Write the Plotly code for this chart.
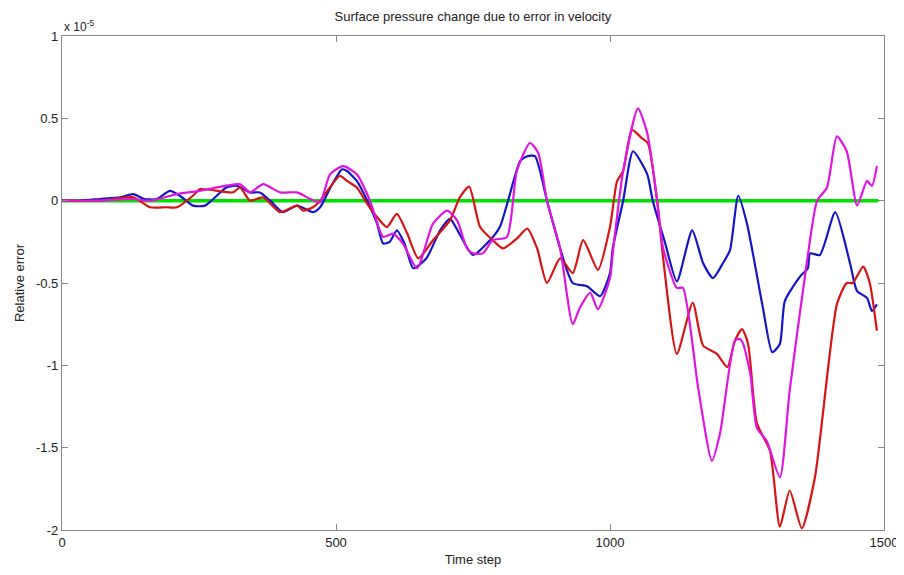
import plotly.graph_objects as go

# values in units of 1e-5
blue_x = [0, 33, 69, 106, 130, 150, 173, 197, 215, 239, 261, 300, 319, 343, 361, 380, 403, 429, 458, 471,
          490, 511, 520, 538, 557, 575, 586, 598, 611, 625, 641, 665, 690, 708, 725, 750, 781, 799, 814,
          836, 849, 863, 885, 909, 932, 958, 982, 1000, 1005, 1024, 1042, 1068, 1078, 1100, 1122, 1150,
          1170, 1188, 1206, 1219, 1234, 1250, 1279, 1296, 1310, 1319, 1347, 1361, 1365, 1383, 1411,
          1438, 1451, 1469, 1478, 1487]
blue_y = [0, 0.0, 0.01, 0.02, 0.04, 0.01, 0.01, 0.06, 0.03, -0.03, -0.03, 0.08, 0.09, 0.05, 0.05, 0.0,
          -0.07, -0.03, -0.07, -0.04, 0.08, 0.19, 0.18, 0.12, 0.0, -0.14, -0.26, -0.25, -0.18, -0.26,
          -0.41, -0.35, -0.18, -0.11, -0.20, -0.33, -0.24, -0.16, 0.0, 0.24, 0.27, 0.27, 0.0, -0.29,
          -0.50, -0.52, -0.58, -0.44, -0.29, 0.0, 0.30, 0.16, 0.0, -0.25, -0.49, -0.18, -0.38, -0.47,
          -0.38, -0.30, 0.03, -0.14, -0.65, -0.92, -0.87, -0.61, -0.46, -0.41, -0.32, -0.33, -0.07,
          -0.38, -0.55, -0.59, -0.67, -0.63]

red_x = [0, 69, 130, 161, 190, 210, 239, 252, 312, 325, 343, 367, 398, 429, 440, 458, 471, 507, 520,
         538, 557, 575, 593, 611, 630, 650, 677, 708, 726, 743, 763, 786, 805, 830, 849, 867, 885, 909,
         932, 951, 978, 1000, 1013, 1024, 1040, 1058, 1069, 1086, 1097, 1122, 1151, 1170, 1195, 1214,
         1228, 1241, 1252, 1268, 1292, 1310, 1328, 1350, 1374, 1414, 1432, 1443, 1462, 1474, 1487]
red_y = [0, 0.0, 0.02, -0.04, -0.04, -0.04, 0.03, 0.07, 0.05, 0.08, 0.0, 0.02, -0.07, -0.03, -0.06,
         -0.04, 0.0, 0.15, 0.12, 0.08, -0.02, -0.10, -0.16, -0.08, -0.20, -0.35, -0.24, -0.12, 0.02,
         0.085, -0.16, -0.24, -0.29, -0.23, -0.17, -0.29, -0.50, -0.35, -0.44, -0.24, -0.42, -0.16,
         0.12, 0.18, 0.43, 0.38, 0.35, 0.0, -0.35, -0.93, -0.62, -0.88, -0.93, -1.01, -0.85, -0.78,
         -0.87, -1.35, -1.52, -1.98, -1.76, -1.99, -1.68, -0.63, -0.50, -0.50, -0.40, -0.50, -0.79]

mag_x = [0, 69, 130, 161, 210, 252, 325, 343, 367, 398, 429, 453, 471, 489, 513, 538, 562, 586, 604,
         622, 648, 677, 703, 721, 739, 750, 768, 786, 812, 830, 854, 869, 885, 909, 932, 945, 964, 978,
         1000, 1005, 1024, 1051, 1068, 1086, 1097, 1122, 1133, 1161, 1186, 1201, 1228, 1237, 1243,
         1256, 1268, 1286, 1310, 1328, 1359, 1378, 1396, 1414, 1432, 1451, 1469, 1478, 1487]
mag_y = [0, 0.0, 0.01, 0.0, 0.04, 0.06, 0.10, 0.05, 0.10, 0.05, 0.05, 0.01, -0.01, 0.16, 0.21, 0.16,
         0.0, -0.22, -0.20, -0.26, -0.41, -0.14, -0.06, -0.12, -0.29, -0.32, -0.32, -0.24, -0.22, 0.18,
         0.35, 0.29, 0.0, -0.29, -0.75, -0.65, -0.56, -0.66, -0.47, -0.32, 0.18, 0.56, 0.41, 0.0, -0.29,
         -0.53, -0.53, -1.14, -1.58, -1.41, -0.85, -0.84, -0.87, -1.05, -1.38, -1.46, -1.68, -1.15,
         -0.38, 0.0, 0.08, 0.39, 0.30, -0.03, 0.12, 0.09, 0.21]

green_x = [0, 1490]
green_y = [0, 0]

x_ticks = [0, 500, 1000, 1500]
y_ticks = [1, 0.5, 0, -0.5, -1, -1.5, -2]
y_ticklabels = ["1", "0.5", "0", "-0.5", "-1", "-1.5", "-2"]

fig = go.Figure()
fig.add_trace(go.Scatter(x=green_x, y=green_y, mode="lines",
                         line=dict(color="rgb(0,225,0)", width=3.5), showlegend=False))
for xs, ys, col in [(blue_x, blue_y, "rgb(20,20,200)"),
                    (red_x, red_y, "rgb(215,20,20)"),
                    (mag_x, mag_y, "rgb(225,20,225)")]:
    fig.add_trace(go.Scatter(x=xs, y=ys, mode="lines",
                             line=dict(color=col, width=2.2, shape="spline", smoothing=0.6),
                             showlegend=False))

axis_font = dict(family="Liberation Sans, Arial, sans-serif", size=13, color="#222")
fig.update_layout(
    width=904, height=575,
    margin=dict(l=54, r=28, t=28, b=53, autoexpand=False),
    plot_bgcolor="white", paper_bgcolor="white",
    title=dict(text="Surface pressure change due to error in velocity",
               x=0.5, xref="paper", y=0.993, yanchor="top", pad=dict(t=0),
               font=dict(family="Liberation Sans, Arial, sans-serif", size=13, color="#222")),
    xaxis=dict(range=[0, 1500], tickvals=x_ticks, ticks="inside", ticklen=6,
               tickcolor="#888", showline=True, linecolor="#888", linewidth=1.2,
               mirror="ticks", showgrid=False, zeroline=False, tickfont=axis_font,
               automargin=False,
               title=dict(text="Time step", font=axis_font, standoff=6)),
    yaxis=dict(range=[-2, 1], tickvals=y_ticks, ticktext=y_ticklabels, ticks="inside",
               ticklen=6, tickcolor="#888", showline=True, linecolor="#888", linewidth=1.2,
               mirror="ticks", showgrid=False, zeroline=False, tickfont=axis_font,
               automargin=False,
               title=dict(text="Relative error", font=axis_font, standoff=8)),
    annotations=[dict(text="x 10<sup>-5</sup>", x=0, xref="paper", y=1, yref="paper",
                      xanchor="left", yanchor="bottom", showarrow=False,
                      font=dict(family="Liberation Sans, Arial, sans-serif", size=12, color="#222"))],
)
fig.write_html("out.html")
